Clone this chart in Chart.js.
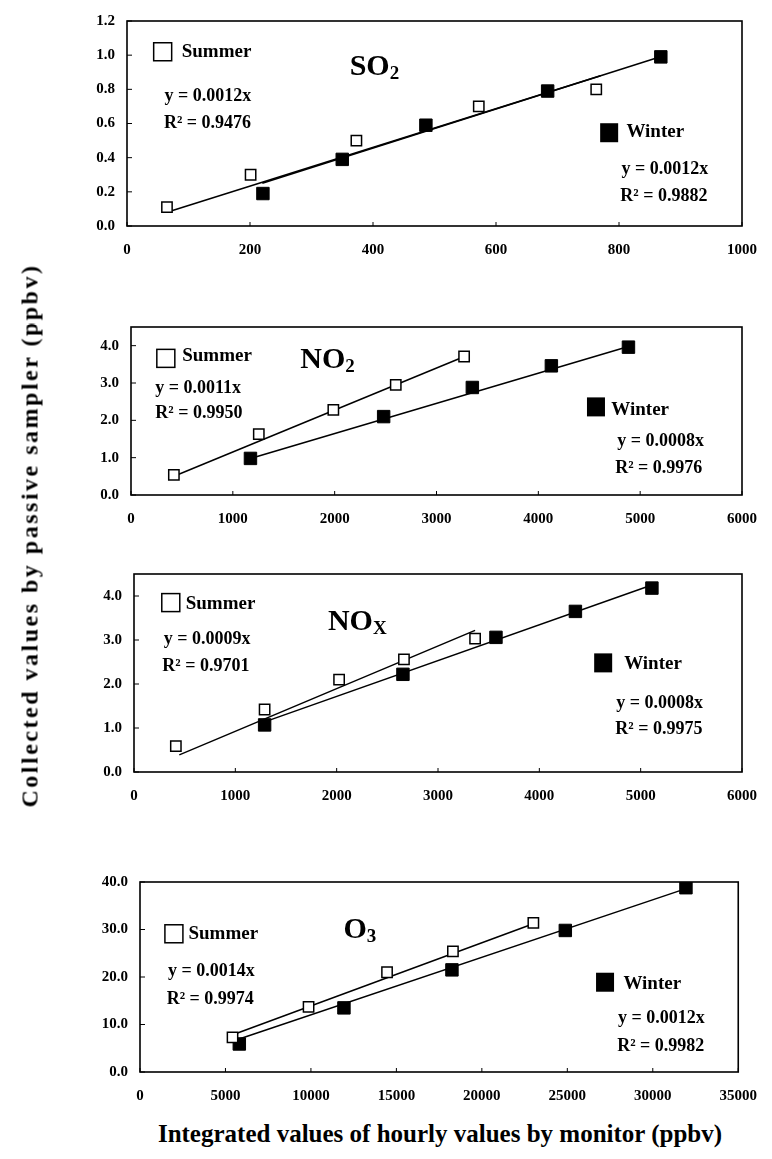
<!DOCTYPE html>
<html>
<head>
<meta charset="utf-8">
<script src="https://cdn.jsdelivr.net/npm/chart.js@4.4.0/dist/chart.umd.min.js"></script>
<style>
  body { margin:0; background:#fff; width:772px; height:1159px; position:relative; overflow:hidden; font-family:"Liberation Serif","Times New Roman",serif; }
  canvas { position:absolute; left:0; }
  #xtitle { position:absolute; left:0; width:880px; top:1120px; text-align:center; font-weight:bold; font-size:25px; color:#000; }
  #ytitle { position:absolute; left:-270px; top:522px; width:600px; text-align:center; font-weight:bold; font-size:24px; letter-spacing:2.5px; color:#000; transform:rotate(-90deg); white-space:nowrap; }
</style>
</head>
<body>
<canvas id="c1" width="772" height="265" style="top:0px"></canvas>
<canvas id="c2" width="772" height="245" style="top:300px"></canvas>
<canvas id="c3" width="772" height="275" style="top:545px"></canvas>
<canvas id="c4" width="772" height="260" style="top:860px"></canvas>
<div id="ytitle">Collected values by passive sampler (ppbv)</div>
<div id="xtitle">Integrated values of hourly values by monitor (ppbv)</div>
<script>

  // ---- SO2 ----
  const so2SummerX = [65, 201, 373, 572, 763];
  const so2SummerY = [0.11, 0.30, 0.50, 0.70, 0.80];
  const so2WinterX = [221, 350, 486, 684, 868];
  const so2WinterY = [0.19, 0.39, 0.59, 0.79, 0.99];
  const so2SummerFitX = [65, 770];
  const so2SummerFitY = [0.08, 0.88];
  const so2WinterFitX = [220, 875];
  const so2WinterFitY = [0.25, 1.00];

  // ---- NO2 ----
  const no2SummerX = [421, 1255, 1987, 2600, 3271];
  const no2SummerY = [0.54, 1.63, 2.28, 2.95, 3.71];
  const no2WinterX = [1173, 2481, 3352, 4128, 4885];
  const no2WinterY = [0.98, 2.10, 2.88, 3.46, 3.96];
  const no2SummerFitX = [410, 3275];
  const no2SummerFitY = [0.49, 3.71];
  const no2WinterFitX = [1173, 4885];
  const no2WinterFitY = [0.98, 3.98];

  // ---- NOx ----
  const noxSummerX = [413, 1289, 2024, 2664, 3366];
  const noxSummerY = [0.59, 1.42, 2.10, 2.56, 3.03];
  const noxWinterX = [1289, 2654, 3572, 4356, 5111];
  const noxWinterY = [1.07, 2.22, 3.06, 3.65, 4.18];
  const noxSummerFitX = [447, 3366];
  const noxSummerFitY = [0.39, 3.22];
  const noxWinterFitX = [1240, 5111];
  const noxWinterFitY = [1.10, 4.25];

  // ---- O3 ----
  const o3SummerX = [5413, 9862, 14453, 18308, 23013];
  const o3SummerY = [7.3, 13.7, 21.0, 25.4, 31.4];
  const o3WinterX = [5810, 11931, 18250, 24883, 31940];
  const o3WinterY = [5.9, 13.5, 21.5, 29.8, 38.8];
  const o3SummerFitX = [5470, 23013];
  const o3SummerFitY = [7.9, 31.2];
  const o3WinterFitX = [5670, 31940];
  const o3WinterFitY = [6.8, 38.6];

  const eqTexts = {
    so2: ["y = 0.0012x", "R² = 0.9476", "y = 0.0012x", "R² = 0.9882"],
    no2: ["y = 0.0011x", "R² = 0.9950", "y = 0.0008x", "R² = 0.9976"],
    nox: ["y = 0.0009x", "R² = 0.9701", "y = 0.0008x", "R² = 0.9975"],
    o3:  ["y = 0.0014x", "R² = 0.9974", "y = 0.0012x", "R² = 0.9982"]
  };

  const FONT = '"Liberation Serif","Times New Roman",serif';

  function pts(xs, ys) { return xs.map((x, i) => ({x: x, y: ys[i]})); }

  /**=============================================================
   *   box plugin : frame, inner ticks and text inside the panel
   =============================================================*/
  const boxPlugin = {
    id: 'box',
    afterDraw(chart, args, o) {
      const ctx = chart.ctx, a = chart.chartArea;
      const sx = chart.scales.x, sy = chart.scales.y;
      ctx.save();
      ctx.strokeStyle = '#000';
      ctx.lineWidth = 1.6;
      ctx.strokeRect(a.left, a.top, a.right - a.left, a.bottom - a.top);
      ctx.lineWidth = 1;
      ctx.beginPath();
      sx.ticks.forEach(t => { const p = sx.getPixelForValue(t.value); ctx.moveTo(p, a.bottom); ctx.lineTo(p, a.bottom - 4); });
      sy.ticks.forEach(t => { const p = sy.getPixelForValue(t.value); ctx.moveTo(a.left, p); ctx.lineTo(a.left + 5, p); });
      ctx.stroke();

      const X = v => sx.getPixelForValue(v), Y = v => sy.getPixelForValue(v);
      // legend markers
      ctx.lineWidth = 1.5;
      ctx.fillStyle = '#fff';
      ctx.fillRect(X(o.sumMark[0]) - 9, Y(o.sumMark[1]) - 9, 18, 18);
      ctx.strokeRect(X(o.sumMark[0]) - 9, Y(o.sumMark[1]) - 9, 18, 18);
      ctx.fillStyle = '#000';
      ctx.fillRect(X(o.winMark[0]) - 9, Y(o.winMark[1]) - 9.5, 18, 19);

      ctx.textBaseline = 'middle';
      ctx.textAlign = 'left';
      ctx.font = 'bold 19px ' + FONT;
      ctx.fillText('Summer', X(o.sumText[0]), Y(o.sumText[1]));
      ctx.fillText('Winter', X(o.winText[0]), Y(o.winText[1]));
      ctx.font = 'bold 18px ' + FONT;
      ctx.fillText(o.eq[0], X(o.eq1[0]), Y(o.eq1[1]));
      ctx.fillText(o.eq[1], X(o.r1[0]), Y(o.r1[1]));
      ctx.fillText(o.eq[2], X(o.eq2[0]), Y(o.eq2[1]));
      ctx.fillText(o.eq[3], X(o.r2[0]), Y(o.r2[1]));

      // gas name with subscript
      ctx.font = 'bold 30px ' + FONT;
      const gx = X(o.gas[0]), gy = Y(o.gas[1]);
      ctx.fillText(o.name, gx, gy);
      const w = ctx.measureText(o.name).width;
      ctx.font = 'bold 19px ' + FONT;
      ctx.fillText(o.sub, gx + w, gy + 7);
      ctx.restore();
    }
  };

  function makePanel(id, p)
  {
    const ct = p.canvasTop, ch = p.canvasHeight;
    return new Chart(document.getElementById(id), {
      type: 'scatter',
      data: {
        datasets: [
          { data: pts(p.sx, p.sy), pointStyle: 'rect', pointRadius: 7.3, backgroundColor: '#fff', borderColor: '#000', borderWidth: 1.5 },
          { data: pts(p.wx, p.wy), pointStyle: 'rect', pointRadius: 8.8, backgroundColor: '#000', borderColor: '#000', borderWidth: 1 },
          { data: pts(p.sfx, p.sfy), showLine: true, pointRadius: 0, borderColor: '#000', borderWidth: 1.5 },
          { data: pts(p.wfx, p.wfy), showLine: true, pointRadius: 0, borderColor: '#000', borderWidth: 1.5 }
        ]
      },
      options: {
        responsive: false,
        animation: false,
        events: [],
        layout: { padding: { left: p.L - 60, right: 772 - p.R, top: p.T - ct, bottom: ct + ch - p.B - 40 } },
        scales: {
          x: {
            type: 'linear', min: 0, max: p.xmax,
            grid: { display: false, drawTicks: false }, border: { display: false },
            ticks: { stepSize: p.xstep, padding: 15, color: '#000', font: { family: FONT, size: 15, weight: 'bold' }, callback: v => String(v), maxRotation: 0 },
            afterFit: s => { s.height = 40; }
          },
          y: {
            min: 0, max: p.ymax,
            grid: { display: false, drawTicks: false }, border: { display: false },
            ticks: { stepSize: p.ystep, padding: 12, color: '#000', font: { family: FONT, size: 15, weight: 'bold' }, callback: v => v.toFixed(1) },
            afterBuildTicks: s => { s.ticks = s.ticks.filter(t => Math.abs(t.value / p.ystep - Math.round(t.value / p.ystep)) < 1e-6); },
            afterFit: s => { s.width = 60; }
          }
        },
        plugins: { legend: { display: false }, tooltip: { enabled: false }, box: p.ann }
      },
      plugins: [boxPlugin]
    });
  }

  makePanel('c1', {
    canvasTop: 0, canvasHeight: 265, L: 127, R: 744, T: 15, B: 226,
    xmax: 1000, xstep: 200, ymax: 1.2, ystep: 0.2,
    sx: so2SummerX, sy: so2SummerY, wx: so2WinterX, wy: so2WinterY,
    sfx: so2SummerFitX, sfy: so2SummerFitY, wfx: so2WinterFitX, wfy: so2WinterFitY,
    ann: { sumMark: [58, 1.02], sumText: [89, 1.02], gas: [362, 0.93], name: 'SO', sub: '2',
           eq1: [61, 0.76], r1: [60, 0.60], winMark: [784, 0.546], winText: [812, 0.547],
           eq2: [804, 0.334], r2: [802, 0.175], eq: eqTexts.so2 }
  });

  makePanel('c2', {
    canvasTop: 300, canvasHeight: 245, L: 131, R: 748, T: 327, B: 495,
    xmax: 6000, xstep: 1000, ymax: 4.5, ystep: 1,
    sx: no2SummerX, sy: no2SummerY, wx: no2WinterX, wy: no2WinterY,
    sfx: no2SummerFitX, sfy: no2SummerFitY, wfx: no2WinterFitX, wfy: no2WinterFitY,
    ann: { sumMark: [342, 3.66], sumText: [503, 3.71], gas: [1662, 3.62], name: 'NO', sub: '2',
           eq1: [239, 2.86], r1: [239, 2.19], winMark: [4566, 2.36], winText: [4717, 2.28],
           eq2: [4775, 1.43], r2: [4755, 0.72], eq: eqTexts.no2 }
  });

  makePanel('c3', {
    canvasTop: 545, canvasHeight: 275, L: 134, R: 749, T: 574, B: 772,
    xmax: 6000, xstep: 1000, ymax: 4.5, ystep: 1,
    sx: noxSummerX, sy: noxSummerY, wx: noxWinterX, wy: noxWinterY,
    sfx: noxSummerFitX, sfy: noxSummerFitY, wfx: noxWinterFitX, wfy: noxWinterFitY,
    ann: { sumMark: [363, 3.85], sumText: [510, 3.82], gas: [1914, 3.41], name: 'NO', sub: 'X',
           eq1: [293, 3.01], r1: [279, 2.39], winMark: [4630, 2.48], winText: [4837, 2.46],
           eq2: [4760, 1.57], r2: [4750, 0.97], eq: eqTexts.nox }
  });

  makePanel('c4', {
    canvasTop: 860, canvasHeight: 260, L: 140, R: 749, T: 882, B: 1072,
    xmax: 35000, xstep: 5000, ymax: 40, ystep: 10,
    sx: o3SummerX, sy: o3SummerY, wx: o3WinterX, wy: o3WinterY,
    sfx: o3SummerFitX, sfy: o3SummerFitY, wfx: o3WinterFitX, wfy: o3WinterFitY,
    ann: { sumMark: [1984, 29.1], sumText: [2834, 29.1], gas: [11903, 29.9], name: 'O', sub: '3',
           eq1: [1644, 21.1], r1: [1559, 15.3], winMark: [27207, 18.9], winText: [28283, 18.6],
           eq2: [27971, 11.3], r2: [27915, 5.4], eq: eqTexts.o3 }
  });

</script>
</body>
</html>
